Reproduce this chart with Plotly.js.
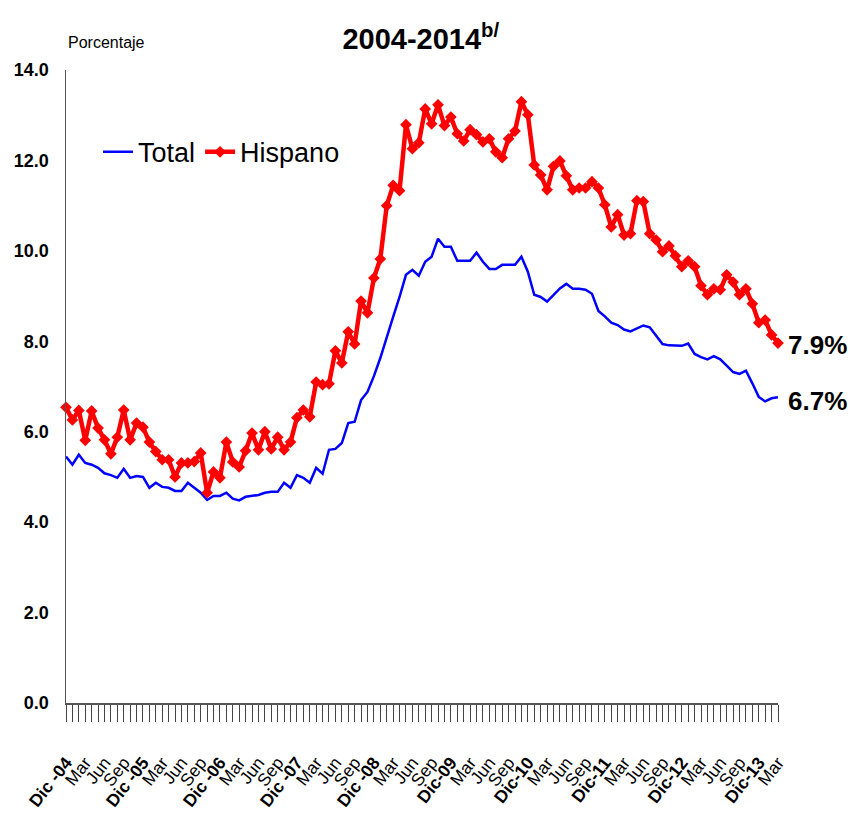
<!DOCTYPE html>
<html>
<head>
<meta charset="utf-8">
<script src="https://cdn.plot.ly/plotly-3.0.1.min.js"></script>
<style>
  html, body { margin: 0; padding: 0; background: #ffffff; }
  #chart { width: 850px; height: 813px; }
</style>
</head>
<body>
<div id="chart"></div>
<script>
// Monthly unemployment rate (%), Dic-2004 .. Mar-2014
const totalRate = [
  5.45, 5.27, 5.49, 5.31, 5.27, 5.20, 5.08, 5.04, 4.98, 5.18, 4.98, 5.02,
  5.00, 4.76, 4.87, 4.78, 4.76, 4.69, 4.69, 4.87, 4.76, 4.65, 4.49, 4.58,
  4.58, 4.65, 4.52, 4.48, 4.56, 4.58, 4.60, 4.65, 4.67, 4.67, 4.87, 4.76,
  5.04, 4.98, 4.87, 5.20, 5.07, 5.60, 5.62, 5.75, 6.19, 6.22, 6.70, 6.88,
  7.23, 7.63, 8.10, 8.54, 8.98, 9.47, 9.58, 9.45, 9.76, 9.87, 10.27, 10.09,
  10.09, 9.78, 9.78, 9.78, 9.96, 9.76, 9.60, 9.60, 9.69, 9.69, 9.69, 9.87,
  9.54, 9.03, 8.98, 8.88, 9.03, 9.17, 9.27, 9.16, 9.16, 9.14, 9.05, 8.67,
  8.55, 8.41, 8.36, 8.26, 8.22, 8.29, 8.35, 8.31, 8.12, 7.94, 7.91, 7.90,
  7.90, 7.95, 7.72, 7.65, 7.60, 7.67, 7.60, 7.46, 7.32, 7.28, 7.35, 7.07,
  6.77, 6.67, 6.74, 6.76
];
const hispanoRate = [
  6.54, 6.26, 6.47, 5.81, 6.46, 6.08, 5.82, 5.51, 5.88, 6.48, 5.82, 6.19,
  6.10, 5.77, 5.56, 5.38, 5.38, 5.00, 5.31, 5.31, 5.34, 5.53, 4.65, 5.11,
  4.98, 5.77, 5.33, 5.22, 5.58, 5.97, 5.60, 6.00, 5.62, 5.88, 5.60, 5.77,
  6.31, 6.48, 6.33, 7.10, 7.04, 7.06, 7.79, 7.52, 8.21, 7.94, 8.89, 8.63,
  9.40, 9.82, 11.00, 11.45, 11.33, 12.79, 12.26, 12.39, 13.14, 12.81, 13.23, 12.77,
  12.96, 12.59, 12.43, 12.68, 12.57, 12.41, 12.48, 12.19, 12.06, 12.48, 12.65, 13.30,
  13.01, 11.90, 11.68, 11.35, 11.87, 11.99, 11.66, 11.35, 11.39, 11.39, 11.53, 11.39,
  11.02, 10.53, 10.80, 10.35, 10.38, 11.11, 11.09, 10.38, 10.24, 9.98, 10.11, 9.89,
  9.65, 9.78, 9.65, 9.23, 9.03, 9.16, 9.14, 9.47, 9.31, 9.03, 9.16, 8.83,
  8.41, 8.47, 8.14, 7.96
];
// Tick labels, one every three months starting at Dic-04
const tickLabels = [
  "Dic -04", "Mar", "Jun", "Sep",
  "Dic -05", "Mar", "Jun", "Sep",
  "Dic -06", "Mar", "Jun", "Sep",
  "Dic -07", "Mar", "Jun", "Sep",
  "Dic -08", "Mar", "Jun", "Sep",
  "Dic-09", "Mar", "Jun", "Sep",
  "Dic-10", "Mar", "Jun", "Sep",
  "Dic-11", "Mar", "Jun", "Sep",
  "Dic-12", "Mar", "Jun", "Sep",
  "Dic-13", "Mar"
];
const seriesNames = ["Total", "Hispano"];
const endLabels = ["6.7%", "7.9%"];
const yTicks = [0, 2, 4, 6, 8, 10, 12, 14];

const FONT = "'Liberation Sans Narrow', 'Arial Narrow', 'Liberation Sans', Arial, sans-serif";

// month index positions
const monthIdx = totalRate.map((_, i) => i);
const tickText = monthIdx.map(i => {
  if (i % 3 !== 0) return " ";
  const lab = tickLabels[i / 3];
  return lab.startsWith("Dic") ? "<b>" + lab + "</b>" : lab;
});

const traces = [
  {
    x: monthIdx, y: totalRate, name: seriesNames[0], type: "scatter", mode: "lines",
    line: { color: "#0000FF", width: 2.5 }, cliponaxis: false
  },
  {
    x: monthIdx, y: hispanoRate, name: seriesNames[1], type: "scatter", mode: "lines+markers",
    line: { color: "#FF0000", width: 4.5 },
    marker: { symbol: "diamond", size: 9, color: "#FF0000" }, cliponaxis: false
  }
];

const layout = {
  width: 850, height: 813,
  margin: { l: 66, r: 72, t: 70, b: 110 },
  paper_bgcolor: "#ffffff", plot_bgcolor: "#ffffff",
  font: { family: FONT, color: "#000000" },
  showlegend: true,
  title: {
    text: "<b>2004-2014<sup>b/</sup></b>",
    font: { family: FONT, size: 29, color: "#000000" },
    x: 0.495, xanchor: "center", y: 0.952, yanchor: "middle"
  },
  legend: {
    orientation: "h", x: 0.045, xanchor: "left", y: 0.87, yanchor: "middle",
    font: { family: FONT, size: 27, color: "#000000" },
    bgcolor: "rgba(0,0,0,0)", itemwidth: 30, tracegroupgap: 0
  },
  xaxis: {
    range: [0, monthIdx.length - 1],
    tickmode: "array", tickvals: monthIdx, ticktext: tickText,
    tickangle: -52, tickfont: { family: FONT, size: 17.5, color: "#000000" },
    ticklabelstandoff: 24,
    ticks: "outside", ticklen: 17, tickwidth: 1, tickcolor: "#444444",
    showline: true, linecolor: "#555555", linewidth: 1.5,
    showgrid: false, zeroline: false, fixedrange: true
  },
  yaxis: {
    range: [0, 14],
    tickmode: "array", tickvals: yTicks, ticktext: yTicks.map(v => v.toFixed(1)),
    tickfont: { family: FONT, size: 18, color: "#000000", weight: "bold" },
    ticks: "outside", ticklen: 12, tickcolor: "rgba(0,0,0,0)",
    showline: true, linecolor: "#555555", linewidth: 1.5,
    showgrid: false, zeroline: false, fixedrange: true
  },
  annotations: [
    {
      text: "Porcentaje", xref: "paper", yref: "paper", x: 0, y: 1.044,
      xanchor: "left", yanchor: "middle", showarrow: false,
      font: { family: FONT, size: 16, color: "#000000" }
    },
    {
      text: "<b>" + endLabels[1] + "</b>", xref: "paper", yref: "y", x: 1, y: hispanoRate[hispanoRate.length - 1] - 0.05,
      xanchor: "left", yanchor: "middle", xshift: 8, showarrow: false,
      font: { family: FONT, size: 26, color: "#000000" }
    },
    {
      text: "<b>" + endLabels[0] + "</b>", xref: "paper", yref: "y", x: 1, y: totalRate[totalRate.length - 1] - 0.08,
      xanchor: "left", yanchor: "middle", xshift: 8, showarrow: false,
      font: { family: FONT, size: 26, color: "#000000" }
    }
  ]
};

Plotly.newPlot("chart", traces, layout, { displayModeBar: false, staticPlot: true });
</script>
</body>
</html>
